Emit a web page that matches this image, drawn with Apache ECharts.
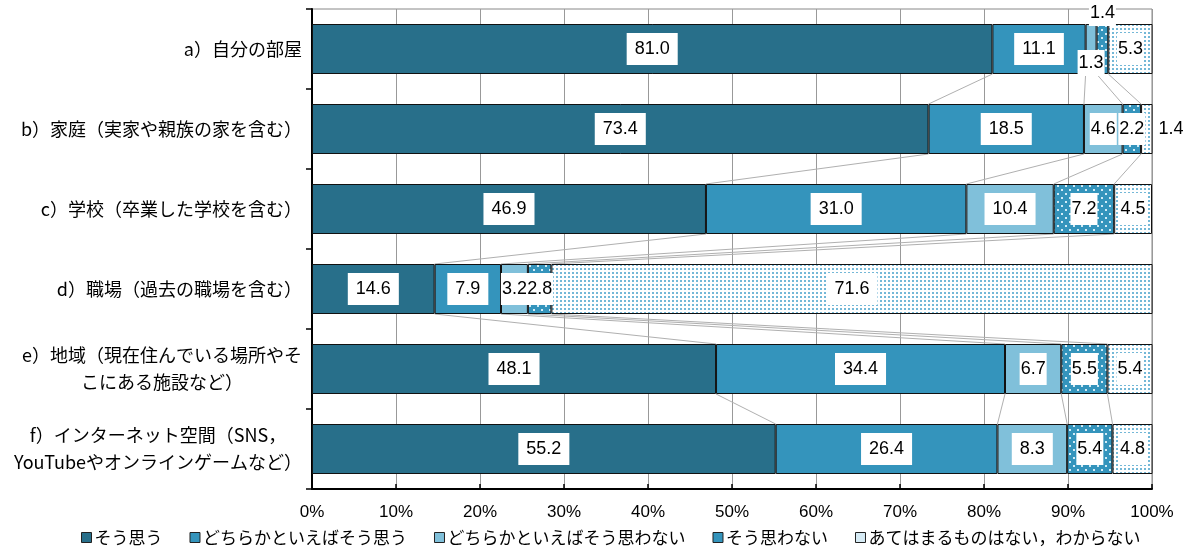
<!DOCTYPE html>
<html>
<head>
<meta charset="utf-8">
<script src="https://cdn.jsdelivr.net/npm/echarts@6/dist/echarts.min.js"></script>
<style>
html,body{margin:0;padding:0;background:#fff;}
#chart{width:1189px;height:548px;}
</style>
</head>
<body>
<div id="chart"></div>
<script>
// ---- data ----
const categories = [
  'a）自分の部屋',
  'b）家庭（実家や親族の家を含む）',
  'c）学校（卒業した学校を含む）',
  'd）職場（過去の職場を含む）',
  'e）地域（現在住んでいる場所やそ\nこにある施設など）',
  'f）インターネット空間（SNS，\nYouTubeやオンラインゲームなど）'
];
const seriesNames = ['そう思う', 'どちらかといえばそう思う', 'どちらかといえばそう思わない', 'そう思わない', 'あてはまるものはない，わからない'];
const agree            = [81.0, 73.4, 46.9, 14.6, 48.1, 55.2];
const somewhatAgree    = [11.1, 18.5, 31.0,  7.9, 34.4, 26.4];
const somewhatDisagree = [ 1.3,  4.6, 10.4,  3.2,  6.7,  8.3];
const disagree         = [ 1.4,  2.2,  7.2,  2.8,  5.5,  5.4];
const notApplicable    = [ 5.3,  1.4,  4.5, 71.6,  5.4,  4.8];
const xTicks = [0, 100, 10];

const seriesValues = [agree, somewhatAgree, somewhatDisagree, disagree, notApplicable];

// ---- patterns ----
function dotPattern(bg, dot, size, dots, ds) {
  const c = document.createElement('canvas');
  c.width = size; c.height = size;
  const g = c.getContext('2d');
  g.fillStyle = bg; g.fillRect(0, 0, size, size);
  g.fillStyle = dot;
  dots.forEach(d => g.fillRect(d[0], d[1], ds, ds));
  return c;
}
const patDisagree = dotPattern('#3494bc', 'rgba(220,240,250,0.95)', 8, [[1,1],[5,5]], 2);
const patNA = dotPattern('#ffffff', '#74b8d7', 4, [[0,0]], 2);

const fills = [
  '#286f8a',
  '#3494bc',
  '#80c0da',
  {image: patDisagree, repeat: 'repeat'},
  {image: patNA, repeat: 'repeat'}
];
const legendColors = ['#286f8a', '#3494bc', '#80c0da', '#3494bc', '#d6ebf5'];

const FONT = "'Liberation Sans', 'Noto Sans CJK JP', sans-serif";
const JFONT = "'Noto Sans CJK JP', 'Liberation Sans', sans-serif";

// special label placement for narrow segments
const specialLabels = {
  '0-2': {offset: [0, 14], padding: [4, 1]},
  '0-3': {offset: [0, -36], padding: [4, 1]},
  '1-4': {position: 'right', distance: 6, backgroundColor: 'transparent', padding: 0}
};

const barSeries = seriesValues.map((vals, s) => ({
  name: seriesNames[s],
  type: 'bar',
  stack: 'total',
  barWidth: '62.5%',
  z: 3,
  itemStyle: {color: fills[s], borderColor: '#111', borderWidth: 1},
  label: {
    show: true,
    position: 'inside',
    color: '#000',
    backgroundColor: '#fff',
    fontFamily: FONT,
    fontSize: 18,
    padding: [7, 8],
    formatter: p => p.value.toFixed(1)
  },
  data: vals.map((v, i) => {
    const item = {value: v};
    const sp = specialLabels[i + '-' + s];
    if (sp) item.label = sp;
    else if (v < 7.5) item.label = {padding: [7, 1]};
    return item;
  })
}));

// connector lines between consecutive bars
const connectors = [];
for (let i = 0; i < categories.length - 1; i++) {
  let c1 = 0, c2 = 0;
  for (let s = 0; s < seriesValues.length - 1; s++) {
    c1 += seriesValues[s][i];
    c2 += seriesValues[s][i + 1];
    connectors.push([c1, i, c2, i + 1]);
  }
}

const chart = echarts.init(document.getElementById('chart'), null, {renderer: 'canvas'});
chart.setOption({
  animation: false,
  backgroundColor: '#fff',
  textStyle: {fontFamily: FONT},
  grid: {left: 312, right: 37, top: 9, bottom: 59, show: true, borderColor: '#888', borderWidth: 1},
  legend: {
    data: seriesNames.map((n, s) => ({name: n, itemStyle: {color: legendColors[s], borderColor: '#222', borderWidth: 1}})),
    left: 76,
    top: 524,
    itemWidth: 10,
    itemHeight: 10,
    itemGap: 27,
    icon: 'rect',
    textStyle: {fontFamily: JFONT, fontSize: 17, color: '#000', padding: [0, 0, 0, -2]}
  },
  xAxis: {
    type: 'value',
    min: xTicks[0], max: xTicks[1], interval: xTicks[2],
    axisLine: {show: true, lineStyle: {color: '#000', width: 2}},
    axisTick: {show: true, inside: true, length: 5, lineStyle: {color: '#000', width: 1.5}},
    splitLine: {show: true, lineStyle: {color: '#999', width: 1}},
    axisLabel: {formatter: '{value}%', fontSize: 17, color: '#000', margin: 15, fontFamily: FONT}
  },
  yAxis: {
    type: 'category',
    inverse: true,
    data: categories,
    axisLine: {show: true, lineStyle: {color: '#000', width: 2}},
    axisTick: {show: true, length: 6, lineStyle: {color: '#000', width: 1.5}},
    axisLabel: {
      margin: 10,
      color: '#000',
      formatter: v => '{c|' + v + '}',
      rich: {c: {align: 'center', fontFamily: JFONT, fontSize: 18, lineHeight: 27, color: '#000'}}
    }
  },
  series: [
    ...barSeries,
    {
      type: 'custom',
      z: 1,
      silent: true,
      encode: {x: [0, 2], y: [1, 3]},
      data: connectors,
      renderItem: (params, api) => {
        const p1 = api.coord([api.value(0), api.value(1)]);
        const p2 = api.coord([api.value(2), api.value(3)]);
        const half = api.size([0, 1])[1] * 0.3125;
        return {
          type: 'line',
          shape: {x1: p1[0], y1: p1[1] + half, x2: p2[0], y2: p2[1] - half},
          style: {stroke: '#b0b0b0', lineWidth: 1}
        };
      }
    }
  ]
});
</script>
</body>
</html>
